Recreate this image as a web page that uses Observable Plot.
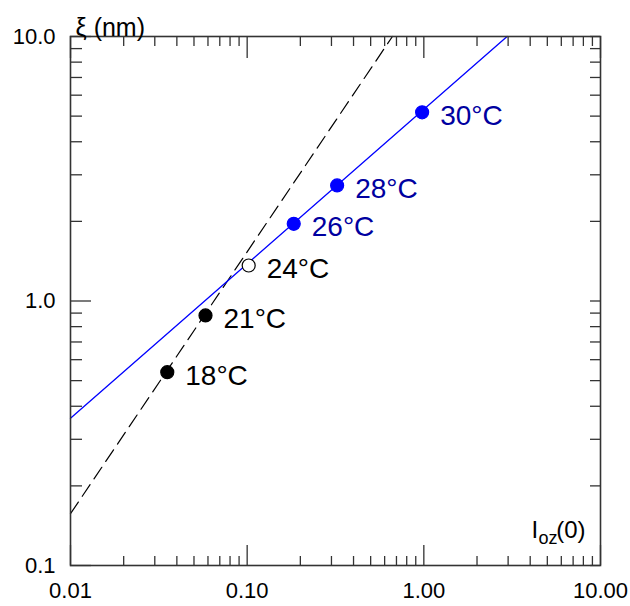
<!DOCTYPE html>
<html>
<head>
<meta charset="utf-8">
<script src="https://cdn.jsdelivr.net/npm/d3@7"></script>
<script src="https://cdn.jsdelivr.net/npm/@observablehq/plot@0.6"></script>
<style>
  body { margin: 0; background: #fff; }
</style>
</head>
<body>
<div id="chart"></div>
<script>
// ---- data ----
const temps = ["18°C", "21°C", "24°C", "26°C", "28°C", "30°C"];
const ioz   = [0.0353, 0.0581, 0.102, 0.1835, 0.323, 0.978];
const xi    = [0.538, 0.882, 1.362, 1.958, 2.734, 5.17];
const phase = ["black", "black", "open", "blue", "blue", "blue"];

const fitBlueX = [0.01, 2.96];
const fitBlueY = [0.36, 10];
const fitDashX = [0.01, 0.664];
const fitDashY = [0.157, 10];

const xTickValues = [0.01, 0.1, 1, 10];
const yTickValues = [0.1, 1, 10];
const xTitleMain = "I";
const xTitleSub = "oz";
const xTitleTail = "(0)";
const yTitle = "ξ (nm)";

// minor tick positions (log decades 2..9)
const minors = (decades) => decades.flatMap(d => [2,3,4,5,6,7,8,9].map(k => k * d));
const xMinor = minors([0.01, 0.1, 1]);
const yMinor = minors([0.1, 1]);

const points = temps.map((t, i) => ({t, x: ioz[i], y: xi[i], phase: phase[i]}));
const blueLine = fitBlueX.map((x, i) => ({x, y: fitBlueY[i]}));
const dashLine = fitDashX.map((x, i) => ({x, y: fitDashY[i]}));

const W = 630, H = 606;
const mL = 70, mR = 30, mT = 36, mB = 41;
const iW = W - mL - mR, iH = H - mT - mB;
const axisColor = "#333";
const fillOf = p => p === "black" ? "black" : p === "open" ? "white" : "#0000ff";
const labelColor = p => p === "blue" ? "#0000a0" : "black";

const chart = Plot.plot({
  width: W, height: H,
  marginLeft: mL, marginRight: mR, marginTop: mT, marginBottom: mB,
  style: {fontFamily: "Arial, 'Liberation Sans', sans-serif", background: "white", color: "black"},
  x: {type: "log", domain: [0.01, 10]},
  y: {type: "log", domain: [0.1, 10]},
  marks: [
    // fit lines
    Plot.line(dashLine, {x: "x", y: "y", stroke: "black", strokeWidth: 1.2, strokeDasharray: "14,7"}),
    Plot.line(blueLine, {x: "x", y: "y", stroke: "#0000ff", strokeWidth: 1.3}),
    // ticks: bottom
    Plot.tickX(xTickValues, {x: d => d, insetTop: iH - 20, stroke: axisColor, strokeWidth: 1.3}),
    Plot.tickX(xMinor, {x: d => d, insetTop: iH - 9, stroke: axisColor, strokeWidth: 1.3}),
    // ticks: top
    Plot.tickX(xTickValues, {x: d => d, insetBottom: iH - 22, stroke: axisColor, strokeWidth: 1.3}),
    Plot.tickX(xMinor, {x: d => d, insetBottom: iH - 10, stroke: axisColor, strokeWidth: 1.3}),
    // ticks: left
    Plot.tickY(yTickValues, {y: d => d, insetRight: iW - 21, stroke: axisColor, strokeWidth: 1.3}),
    Plot.tickY(yMinor, {y: d => d, insetRight: iW - 12, stroke: axisColor, strokeWidth: 1.3}),
    // ticks: right
    Plot.tickY(yTickValues.concat(yMinor), {y: d => d, insetLeft: iW - 10, stroke: axisColor, strokeWidth: 1.3}),
    Plot.frame({stroke: axisColor, strokeWidth: 1.6}),
    // tick labels
    Plot.axisX(xTickValues, {tickSize: 0, tickPadding: 17, tickFormat: d => d.toFixed(2), fontSize: 22, label: null}),
    Plot.axisY(yTickValues, {tickSize: 0, tickPadding: 15, tickFormat: d => d.toFixed(1), fontSize: 22, label: null}),
    // axis titles
    Plot.text([yTitle], {frameAnchor: "top-left", text: d => d, dx: 5, dy: -18.5, textAnchor: "start", fontSize: 25}),
    Plot.text([xTitleMain], {frameAnchor: "bottom-right", text: d => d, dx: -69, dy: -27.7, textAnchor: "start", fontSize: 24}),
    Plot.text([xTitleSub], {frameAnchor: "bottom-right", text: d => d, dx: -62, dy: -21.8, textAnchor: "start", fontSize: 18}),
    Plot.text([xTitleTail], {frameAnchor: "bottom-right", text: d => d, dx: -15, dy: -27.7, textAnchor: "end", fontSize: 24}),
    // points
    Plot.dot(points, {x: "x", y: "y", r: 6.5, fill: d => fillOf(d.phase), stroke: d => d.phase === "blue" ? "#0000ff" : "black", strokeWidth: 1.2}),
    Plot.text(points, {x: "x", y: "y", text: "t", dx: 18, dy: 3.5, textAnchor: "start", fontSize: 28, fill: d => labelColor(d.phase)})
  ]
});
document.getElementById("chart").appendChild(chart);
</script>
</body>
</html>
